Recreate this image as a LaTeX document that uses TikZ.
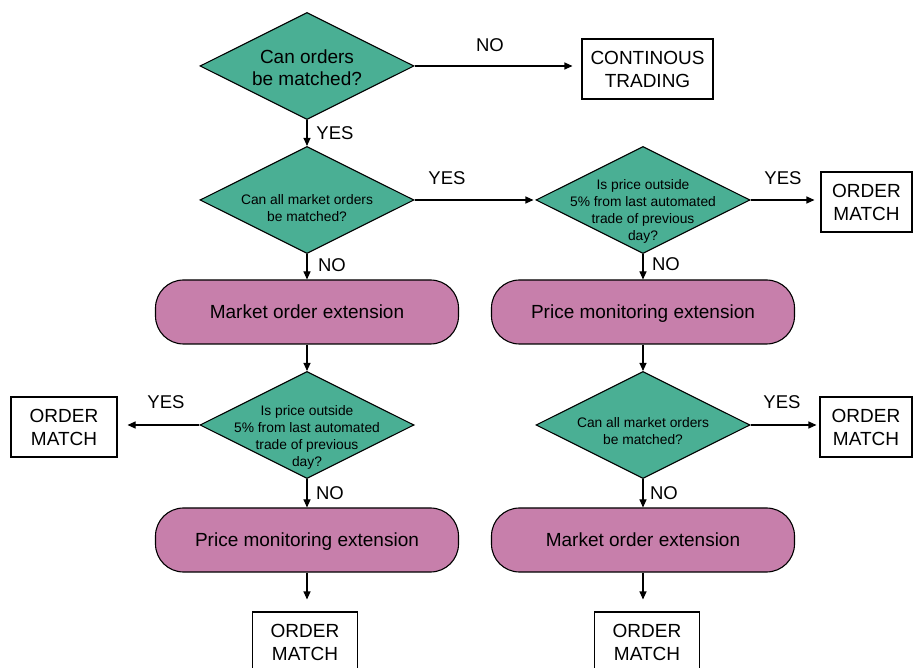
\documentclass[tikz,border=0pt]{standalone}
\usepackage{fontspec}
\setmainfont{Liberation Sans}
\usetikzlibrary{shapes.geometric,arrows.meta}
\definecolor{decfill}{HTML}{4AAF94}
\definecolor{extfill}{HTML}{C77FAB}
\begin{document}
\begin{tikzpicture}[x=1pt,y=-1pt,
  dec/.style={diamond,draw,line width=1.1pt,fill=decfill,minimum width=214pt,minimum height=107pt,inner sep=0pt},
  dectext/.style={align=center,inner sep=0pt,font=\fontsize{13.8}{17}\selectfont},
  ext/.style={draw,line width=1.1pt,fill=extfill,rounded corners=28pt,minimum width=303pt,minimum height=64pt,text height=17pt,text depth=3.4pt,font=\fontsize{19}{22}\selectfont},
  endbox/.style={draw,line width=1.1pt,fill=white,minimum height=60pt,align=center,inner sep=0pt,font=\fontsize{19}{23}\selectfont},
  lbl/.style={inner sep=0pt,font=\fontsize{18.5}{21}\selectfont},
  conn/.style={line width=1.1pt,-{Triangle[length=8pt,width=7pt]}}
]
\useasboundingbox (0,0) rectangle (914,668);
\clip (0,0) rectangle (914,668);
\fill[white] (0,0) rectangle (914,668);
% decisions
\node[dec] (d1) at (307,66) {};
\node[align=center,inner sep=0pt,font=\fontsize{19}{22}\selectfont] (t1) at (307,68) {Can orders\\be matched?};
\node[dec] (d2) at (307,200) {};
\node[dectext] (t2) at (307,208) {Can all market orders\\be matched?};
\node[dec] (d3) at (643,200) {};
\node[dectext] (t3) at (643,211) {Is price outside\\5\% from last automated\\trade of previous\\day?};
\node[dec] (d4) at (307,425) {};
\node[dectext] (t4) at (307,437) {Is price outside\\5\% from last automated\\trade of previous\\day?};
\node[dec] (d5) at (643,425) {};
\node[dectext] (t5) at (643,431) {Can all market orders\\be matched?};
% extensions
\node[ext] (e1) at (307,312) {Market order extension};
\node[ext] (e2) at (643,312) {Price monitoring extension};
\node[ext] (e3) at (307,540) {Price monitoring extension};
\node[ext] (e4) at (643,540) {Market order extension};
% end boxes
\node[endbox,minimum width=131pt] (ct) at (647.5,69) {CONTINOUS\\TRADING};
\node[endbox,minimum width=91pt] (om1) at (866.5,202) {ORDER\\MATCH};
\node[endbox,minimum width=106pt] (om2) at (64,427) {ORDER\\MATCH};
\node[endbox,minimum width=92pt] (om3) at (866,427) {ORDER\\MATCH};
\node[endbox,minimum width=105pt] (om4) at (305,642) {ORDER\\MATCH};
\node[endbox,minimum width=105pt] (om5) at (647,642) {ORDER\\MATCH};
% connectors
\draw[conn,shorten >=9pt] (d1.east) -- (d1.east -| ct.west);
\draw[conn] (d1.south) -- (d2.north);
\draw[conn,shorten >=2pt] (d2.east) -- (d3.west);
\draw[conn,shorten >=6pt] (d3.east) -- (d3.east -| om1.west);
\draw[conn] (d2.south) -- (e1.north);
\draw[conn] (d3.south) -- (e2.north);
\draw[conn] (e1.south) -- (d4.north);
\draw[conn,shorten >=10pt] (d4.west) -- (d4.west -| om2.east);
\draw[conn] (d4.south) -- (e3.north);
\draw[conn,shorten >=12pt] (e3.south) -- (e3.south |- om4.north);
\draw[conn] (e2.south) -- (d5.north);
\draw[conn,shorten >=3pt] (d5.east) -- (d5.east -| om3.west);
\draw[conn] (d5.south) -- (e4.north);
\draw[conn,shorten >=12pt] (e4.south) -- (e4.south |- om5.north);
% labels
\node[lbl] (l1) at (490,45) {NO};
\node[lbl] (l2) at (335,133) {YES};
\node[lbl] (l3) at (447,178) {YES};
\node[lbl] (l4) at (783,178) {YES};
\node[lbl] (l5) at (332,265) {NO};
\node[lbl] (l6) at (666,264) {NO};
\node[lbl] (l7) at (166,402) {YES};
\node[lbl] (l8) at (330,493) {NO};
\node[lbl] (l9) at (782,402) {YES};
\node[lbl] (l10) at (664,493) {NO};
\end{tikzpicture}
\end{document}
